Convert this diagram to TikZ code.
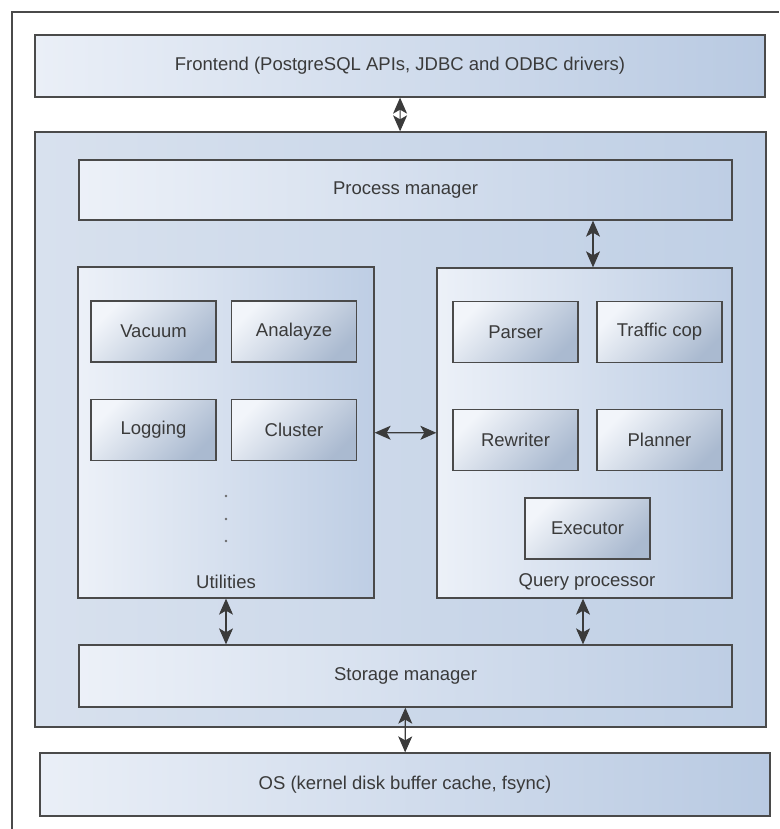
\documentclass[tikz,border=0pt]{standalone}
\usepackage{fontspec}
\setmainfont{Liberation Sans}
\usetikzlibrary{arrows.meta}
\definecolor{edge}{HTML}{4A4A4A}
\definecolor{txt}{HTML}{3A3A3A}
\definecolor{lite}{HTML}{EAEFF7}
\definecolor{dark}{HTML}{B9CAE2}
\definecolor{midl}{HTML}{D8E1EE}
\definecolor{midr}{HTML}{BFCFE5}
\begin{document}
\begin{tikzpicture}[x=1pt,y=-1pt,
  every node/.style={font=\fontsize{18.5}{22}\selectfont, text=txt},
  layer/.style={draw=edge, line width=1.3pt, inner sep=0pt, left color=lite, right color=dark},
  corebox/.style={draw=edge, line width=1.3pt, inner sep=0pt, left color=midl, right color=midr},
  groupbox/.style={draw=edge, line width=1.3pt, inner sep=0pt, left color=lite!90!white, right color=dark!90!lite},
  module/.style={draw=edge, line width=1.3pt, inner sep=0pt, minimum width=125pt, minimum height=61pt, top color=lite!60!white, bottom color=dark!92!black, shading angle=45},
  arr/.style={draw=edge!80!black, line width=1.1pt, {Stealth[length=16pt,width=14pt,inset=4pt]}-{Stealth[length=16pt,width=14pt,inset=4pt]}}
]
\useasboundingbox (0,0) rectangle (779,829);
\fill[white] (0,0) rectangle (779,829);
\draw[edge, line width=1.2pt] (12,829) -- (12,12) -- (779,12);

\node[layer, minimum width=730pt, minimum height=62pt] (front) at (400,66) {Frontend (PostgreSQL APIs, JDBC and ODBC drivers)};
\node[corebox, minimum width=731pt, minimum height=595pt] (core) at (400.5,429.5) {};
\node[groupbox, minimum width=653pt, minimum height=60pt] (pm) at (405.5,190) {Process manager};
\node[groupbox, minimum width=653pt, minimum height=62pt] (sm) at (405.5,676) {Storage manager};
\node[layer, minimum width=730pt, minimum height=63pt] (os) at (405,784.5) {OS (kernel disk buffer cache, fsync)};

\node[groupbox, minimum width=296pt, minimum height=331pt] (util) at (226,432.5) {};
\node[groupbox, minimum width=295pt, minimum height=330pt] (qp) at (584.5,433) {};

\node[module] (vac) at (153.5,331.5) {Vacuum};
\node[module] (ana) at (294,331.5) {Analayze};
\node[module] (log) at (153.5,430) {Logging};
\node[module] (clu) at (294,430) {Cluster};
\fill[txt!75] (226,496) circle (1.4pt) (226,519) circle (1.4pt) (226,541) circle (1.4pt);
\node (utill) at (226,582) {Utilities};

\node[module] (par) at (515.5,332) {Parser};
\node[module] (tra) at (659.5,332) {Traffic cop};
\node[module] (rew) at (515.5,440) {Rewriter};
\node[module] (pla) at (659.5,440) {Planner};
\node[module] (exe) at (587.5,528.5) {Executor};
\node (qpl) at (587,582) {Query processor};

\draw[arr] (front) -- (core);
\draw[arr] ([xshift=8.5pt]qp.north |- pm.south) -- ([xshift=8.5pt]qp.north);
\draw[arr] (util) -- (qp);
\draw[arr] (util.south) -- (util.south |- sm.north);
\draw[arr] ([xshift=-1.5pt]qp.south) -- ([xshift=-1.5pt]qp.south |- sm.north);
\draw[arr] (sm) -- (os);
\end{tikzpicture}
\end{document}
